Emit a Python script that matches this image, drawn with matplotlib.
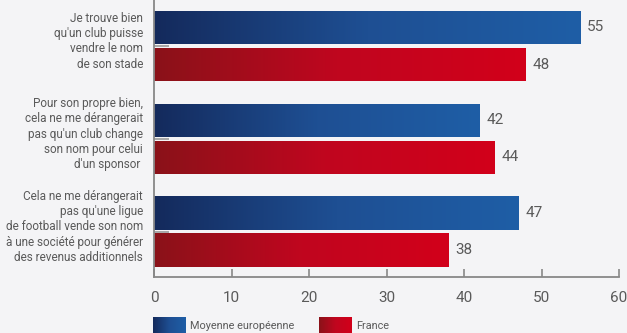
import numpy as np
import matplotlib.pyplot as plt

questions = [
    "Je trouve bien\nqu'un club puisse\nvendre le nom\nde son stade",
    "Pour son propre bien,\ncela ne me dérangerait\npas qu'un club change\nson nom pour celui\nd'un sponsor ",
    "Cela ne me dérangerait\npas qu'une ligue\nde football vende son nom\nà une société pour générer\ndes revenus additionnels",
]
europe = [55, 42, 47]
france = [48, 44, 38]
series_names = ["Moyenne européenne", "France"]

W, H = 627, 333
bg = "#f4f4f6"
grey = "#5a5a5a"
blue_cmap = plt.matplotlib.colors.LinearSegmentedColormap.from_list("b", ["#142a5c", "#1e4f93", "#1f5ea6"])
red_cmap = plt.matplotlib.colors.LinearSegmentedColormap.from_list("r", ["#8a1219", "#c0061f", "#d2001a"])
plt.rcParams['font.family'] = ['Roboto', 'DejaVu Sans']

fig = plt.figure(figsize=(W / 100, H / 100), dpi=100, facecolor=bg)
ax = fig.add_axes([154 / W, 1 - 277 / H, (619 - 154) / W, 277 / H], facecolor=bg)

y = np.arange(len(questions))
grad = np.linspace(0, 1, 256).reshape(1, -1)
for vals, off, cmap in [(europe, -0.2, blue_cmap), (france, 0.2, red_cmap)]:
    bars = ax.barh(y + off, vals, height=0.36, color="none", edgecolor="none")
    for b, v in zip(bars, vals):
        im = ax.imshow(grad, cmap=cmap, aspect="auto", interpolation="bicubic",
                       extent=[0, v, b.get_y() + b.get_height(), b.get_y()], zorder=2)
        im.set_clip_path(b)
        ax.text(v + 0.9, b.get_y() + b.get_height() / 2, str(v), va="center", ha="left",
                fontsize=11, color=grey)

ax.set_xlim(0, 60)
ax.set_ylim(2.49, -0.496)
ax.set_xticks(range(0, 61, 10))
ax.tick_params(axis="x", direction="in", length=6, width=1.2, color="#888888",
               labelsize=11, labelcolor=grey, pad=10)
ax.set_yticks(y)
ax.set_yticklabels([])
ax.tick_params(axis="y", direction="in", length=11, width=1.2, color="#999999")
for s in ["top", "right"]:
    ax.spines[s].set_visible(False)
for s in ["left", "bottom"]:
    ax.spines[s].set_color("#888888")
    ax.spines[s].set_linewidth(1.3)

for i, q in enumerate(questions):
    ax.text(-11 / 7.75, i - 0.05, q, ha="right", va="center", fontsize=8.5, color=grey,
            linespacing=1.22)

# legend
for (name, cmap, x0) in [(series_names[0], blue_cmap, 153), (series_names[1], red_cmap, 319)]:
    lax = fig.add_axes([x0 / W, 0, 33 / W, 16 / H])
    lax.imshow(grad, cmap=cmap, aspect="auto")
    lax.axis("off")
    fig.text((x0 + 37) / W, 1 - 326 / H, name, fontsize=7.8, color=grey, va="center")

fig.savefig("out.png", dpi=100, facecolor=bg)
